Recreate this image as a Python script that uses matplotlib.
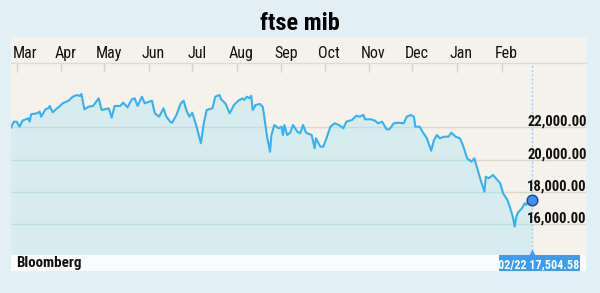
import matplotlib
matplotlib.use('Agg')
import matplotlib.pyplot as plt
import matplotlib.dates as mdates
import matplotlib.transforms as mtransforms
from matplotlib.patches import Rectangle, Polygon
from matplotlib import font_manager as fm
import datetime as dt

# ---------------- data ----------------
title = 'ftse mib'
source = 'Bloomberg'
last_label = '02/22 17,504.58'

dates = [
    '2015-02-25', '2015-02-27', '2015-03-01', '2015-03-03', '2015-03-05', '2015-03-09',
    '2015-03-10', '2015-03-11', '2015-03-15', '2015-03-17', '2015-03-18', '2015-03-21',
    '2015-03-23', '2015-03-24', '2015-03-26', '2015-03-29', '2015-03-31', '2015-04-02',
    '2015-04-06', '2015-04-09', '2015-04-12', '2015-04-14', '2015-04-15', '2015-04-17',
    '2015-04-20', '2015-04-23', '2015-04-27', '2015-04-29', '2015-05-04', '2015-05-06',
    '2015-05-08', '2015-05-12', '2015-05-14', '2015-05-17', '2015-05-20', '2015-05-22',
    '2015-05-24', '2015-05-27', '2015-05-29', '2015-06-03', '2015-06-05', '2015-06-08',
    '2015-06-11', '2015-06-13', '2015-06-16', '2015-06-17', '2015-06-20', '2015-06-23',
    '2015-06-25', '2015-06-27', '2015-06-29', '2015-07-01', '2015-07-04', '2015-07-07',
    '2015-07-09', '2015-07-11', '2015-07-15', '2015-07-17', '2015-07-20', '2015-07-21',
    '2015-07-24', '2015-07-27', '2015-07-30', '2015-08-02', '2015-08-05', '2015-08-06',
    '2015-08-08', '2015-08-10', '2015-08-11', '2015-08-12', '2015-08-14', '2015-08-17',
    '2015-08-19', '2015-08-22', '2015-08-24', '2015-08-25', '2015-08-27', '2015-08-30',
    '2015-09-01', '2015-09-02', '2015-09-03', '2015-09-05', '2015-09-07', '2015-09-09',
    '2015-09-12', '2015-09-14', '2015-09-16', '2015-09-18', '2015-09-22', '2015-09-24',
    '2015-09-25', '2015-09-28', '2015-09-30', '2015-10-02', '2015-10-05', '2015-10-08',
    '2015-10-11', '2015-10-14', '2015-10-16', '2015-10-20', '2015-10-23', '2015-10-25',
    '2015-10-28', '2015-10-29', '2015-11-02', '2015-11-05', '2015-11-07', '2015-11-10',
    '2015-11-13', '2015-11-15', '2015-11-18', '2015-11-21', '2015-11-25', '2015-11-27',
    '2015-11-30', '2015-12-02', '2015-12-03', '2015-12-06', '2015-12-08', '2015-12-11',
    '2015-12-14', '2015-12-16', '2015-12-18', '2015-12-20', '2015-12-23', '2015-12-26',
    '2015-12-28', '2015-12-31', '2016-01-03', '2016-01-05', '2016-01-08', '2016-01-11',
    '2016-01-13', '2016-01-15', '2016-01-17', '2016-01-20', '2016-01-21', '2016-01-23',
    '2016-01-26', '2016-01-29', '2016-01-31', '2016-02-02', '2016-02-05', '2016-02-07',
    '2016-02-09', '2016-02-10', '2016-02-11', '2016-02-12', '2016-02-15', '2016-02-17',
    '2016-02-18', '2016-02-20', '2016-02-22',
]
values = [
    21975, 22347, 22347, 22037, 22409, 22557,
    22347, 22805, 22867, 22966, 22656, 23115,
    23176, 23319, 22929, 23176, 23319, 23486,
    23647, 23895, 24000, 23938, 24062, 23115,
    23276, 23319, 23796, 23071, 23176, 22594,
    23319, 23319, 23523, 23238, 23734, 23796,
    23319, 23895, 23486, 23647, 22867, 22656,
    23176, 22656, 22310, 22285, 22762, 23486,
    23647, 23028, 22656, 22904, 22037, 21009,
    22248, 23071, 23176, 23895, 24000, 23734,
    23486, 22867, 23381, 23647, 23796, 23690,
    23895, 23796, 23957, 23071, 23381, 23443,
    23276, 21418, 20489, 21523, 22142, 21938,
    22037, 21523, 22142, 21523, 21666, 22142,
    21728, 21628, 22142, 21666, 21523, 20700,
    21319, 20799, 20799, 21257, 22037, 22248,
    22142, 21938, 22347, 22452, 22718, 22656,
    22762, 22495, 22495, 22409, 22248, 22347,
    21876, 21876, 22248, 22285, 22248, 22656,
    22762, 22656, 22037, 22037, 21728, 21319,
    20551, 21214, 21523, 21319, 21418, 21418,
    21666, 21418, 21319, 20904, 20080, 19870,
    20080, 19461, 18842, 18012, 18941, 18842,
    19046, 18737, 18533, 17913, 17498, 16984,
    16365, 15845, 16365, 16675, 16984, 17294,
    17189, 17498, 17504.58,
]
month_starts = ['2015-03-01', '2015-04-01', '2015-05-01', '2015-06-01', '2015-07-01',
                '2015-08-01', '2015-09-01', '2015-10-01', '2015-11-01', '2015-12-01',
                '2016-01-01', '2016-02-01']
month_labels = ['Mar', 'Apr', 'May', 'Jun', 'Jul', 'Aug', 'Sep', 'Oct', 'Nov', 'Dec',
                'Jan', 'Feb']
ytick_values = [22000, 20000, 18000, 16000]
ytick_labels = ['22,000.00', '20,000.00', '18,000.00', '16,000.00']

# ---------------- fonts ----------------
available = {f.name for f in fm.fontManager.ttflist}
cands = ['Liberation Sans Narrow', 'Roboto Condensed', 'DejaVu Sans Condensed',
         'Open Sans Condensed', 'DejaVu Sans']
fams = [c for c in cands if c in available] or ['DejaVu Sans']
plt.rcParams['font.family'] = fams
plt.rcParams['font.stretch'] = 'condensed'

BG = '#e2eff4'
PANEL = '#f4f2ea'
FILL = '#d7ecee'
LINE = '#36b1f2'
GRID_CREAM = '#dad7cb'
GRID_FILL = '#bcdfe0'

W, H = 600, 293
fig = plt.figure(figsize=(W / 100, H / 100), dpi=100)
fig.patch.set_facecolor(BG)


def fx(px):
    return px / W


def fy(py):
    return 1 - py / H


fig.add_artist(Rectangle((fx(11), fy(271)), (586 - 11) / W, (271 - 37) / H,
                         transform=fig.transFigure, facecolor=PANEL,
                         edgecolor='none', zorder=0))
fig.add_artist(Rectangle((fx(11), fy(270.7)), (586 - 11) / W, (270.7 - 255) / H,
                         transform=fig.transFigure, facecolor='#f9fbfc',
                         edgecolor='none', zorder=0.5))

ax = fig.add_axes([fx(11), fy(255), (586 - 11) / W, (255 - 63) / H])
ax.set_facecolor('none')

x = mdates.date2num([dt.datetime.strptime(d, '%Y-%m-%d') for d in dates])
m0 = mdates.date2num(dt.datetime(2015, 3, 1))
ax.set_xlim(m0 - 3.96, m0 + 395.6)
ymin, ymax = 14093, 25981
ax.set_ylim(ymin, ymax)

for v in ytick_values:
    ax.axhline(v, color=GRID_CREAM, lw=1.0, zorder=1)

verts = list(zip(x, values)) + [(x[-1], ymin), (x[0], ymin)]
poly = Polygon(verts, closed=True, facecolor=FILL, edgecolor='none',
               transform=ax.transData, zorder=2)
ax.add_patch(poly)

for v in ytick_values:
    gl = ax.axhline(v, color=GRID_FILL, lw=1.0, zorder=3)
    gl.set_clip_path(poly)

ax.axvline(x[-1], color='#a9c9f2', lw=1.0, ls=(0, (1.5, 1.5)), zorder=3.5)

ax.plot(x, values, color=LINE, lw=1.5, zorder=4, solid_joinstyle='round')

ax.plot([x[-1]], [values[-1]], 'o', ms=7.7, mfc='#3f90ef', mec='#1a469c',
        mew=1.0, zorder=6, clip_on=False)

mx = mdates.date2num([dt.datetime.strptime(d, '%Y-%m-%d') for d in month_starts])
ax.set_xticks(mx)
ax.tick_params(axis='x', which='both', top=True, bottom=False, labeltop=False,
               labelbottom=False, direction='in', length=6.5, width=1.0,
               color='#d6d3c7')
ax.set_yticks([])
for s in ['left', 'right', 'bottom']:
    ax.spines[s].set_visible(False)
ax.spines['top'].set_color('#dedbd0')
ax.spines['top'].set_linewidth(1.0)

for i, (m, lab) in enumerate(zip(mx, month_labels)):
    if i == 0:
        ax.annotate(lab, xy=(0, 1), xycoords='axes fraction', xytext=(1.2, 3.6),
                    textcoords='offset points', ha='left', va='baseline',
                    fontsize=11.5, color='#111111')
    else:
        ax.annotate(lab, xy=(m + 3, 1), xycoords=('data', 'axes fraction'),
                    xytext=(0, 3.6), textcoords='offset points', ha='center',
                    va='baseline', fontsize=11.5, color='#111111',
                    annotation_clip=False)

for v, lab in zip(ytick_values, ytick_labels):
    ax.annotate(lab, xy=(1, v), xycoords=('axes fraction', 'data'),
                xytext=(0.6, 1.0), textcoords='offset points', ha='right',
                va='baseline', fontsize=10.5, fontweight='bold', color='#111111',
                zorder=7)

fig.text(0.5, fy(30.5), title, ha='center', va='baseline', fontsize=17.5,
         fontweight='heavy', color='black')

fig.text(fx(16.5), fy(266.7), source, ha='left', va='baseline', fontsize=10.8,
         fontweight='bold', color='#111111')

fig.add_artist(Rectangle((fx(499), fy(270.7)), (580 - 499) / W, (270.7 - 255) / H,
                         transform=fig.transFigure, facecolor='#3c9cf3',
                         edgecolor='none', zorder=5))
fig.text(fx(539), fy(268.2), last_label, ha='center', va='baseline', fontsize=8.7,
         fontweight='bold', color='white', zorder=6)
blend = mtransforms.blended_transform_factory(ax.transData, fig.transFigure)
ax.plot([x[-1]], [fy(252.8)], marker='^', ms=6, color='#3c9cf3', mec='none',
        transform=blend, clip_on=False, zorder=6)

fig.savefig('out.png', dpi=100, facecolor=fig.get_facecolor())
